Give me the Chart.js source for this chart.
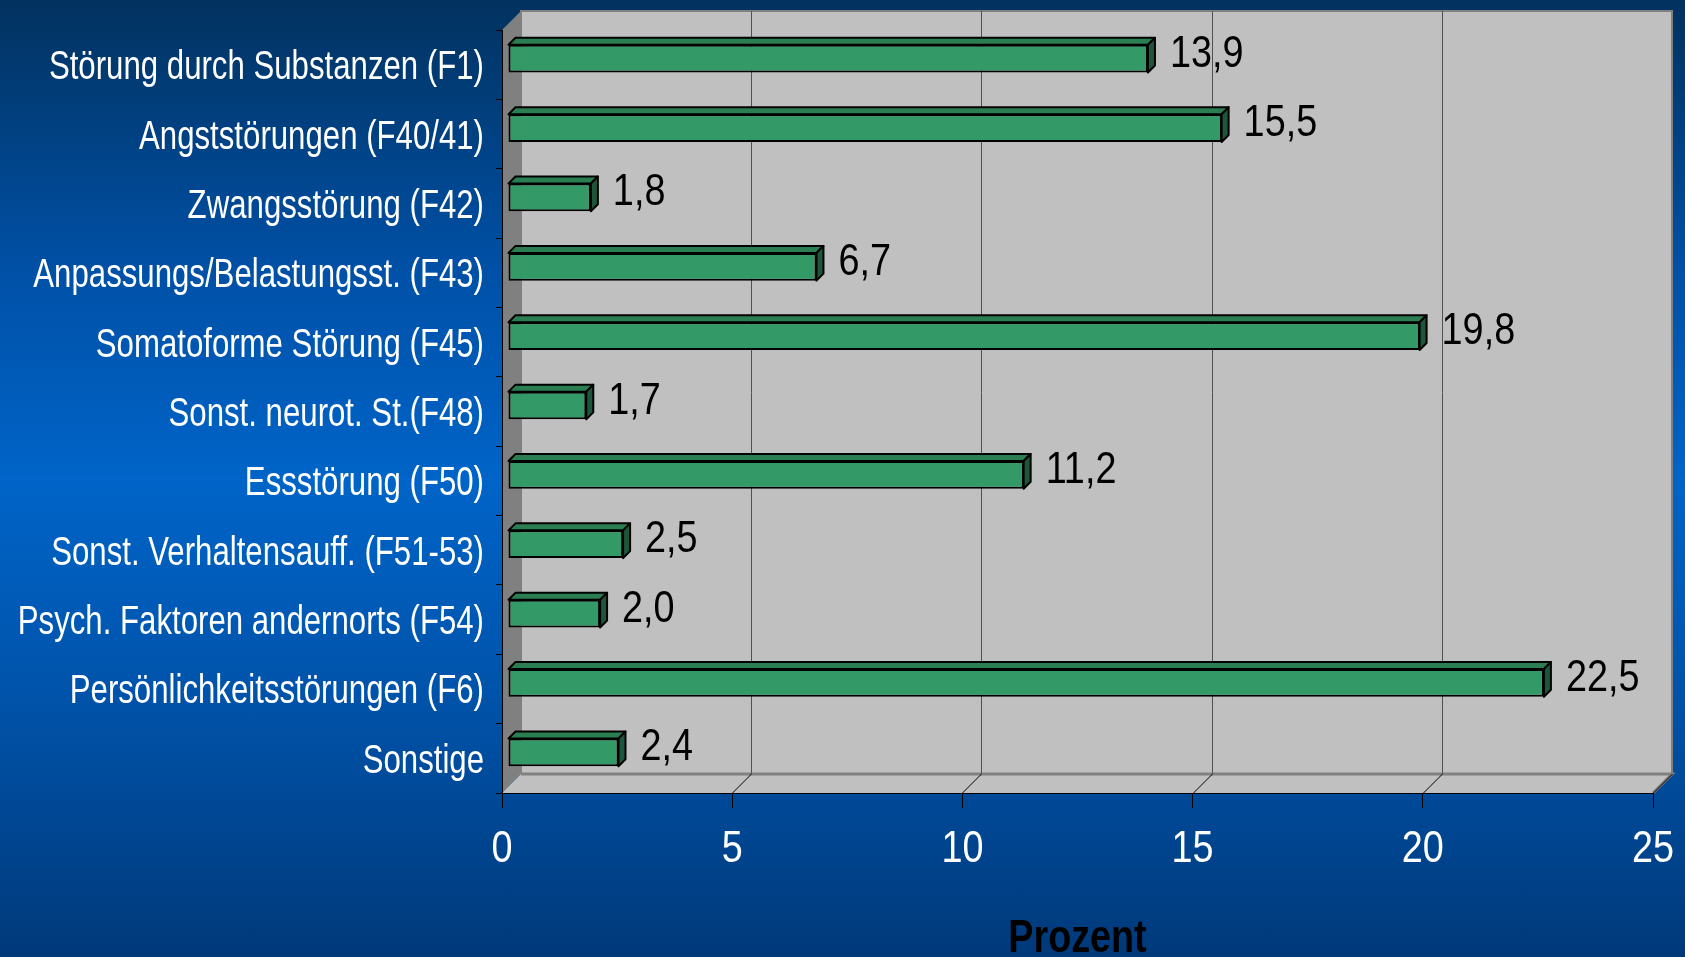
<!DOCTYPE html>
<html>
<head>
<meta charset="utf-8">
<script src="https://cdn.jsdelivr.net/npm/chart.js@4/dist/chart.umd.min.js"></script>
<style>
  html, body { margin: 0; padding: 0; }
  body {
    width: 1685px; height: 957px; overflow: hidden;
    background: linear-gradient(to bottom, #02325f 0%, #0050a6 28%, #0064c8 50%, #0052a8 74%, #00397a 100%);
  }
  canvas { display: block; }
</style>
</head>
<body>
<canvas id="chart" width="1685" height="957"></canvas>
<script>
"use strict"

const categories = [
  "Störung durch Substanzen (F1)",
  "Angststörungen (F40/41)",
  "Zwangsstörung (F42)",
  "Anpassungs/Belastungsst. (F43)",
  "Somatoforme Störung (F45)",
  "Sonst. neurot. St.(F48)",
  "Essstörung (F50)",
  "Sonst. Verhaltensauff. (F51-53)",
  "Psych. Faktoren andernorts (F54)",
  "Persönlichkeitsstörungen (F6)",
  "Sonstige",
];
const values = [13.9, 15.5, 1.8, 6.7, 19.8, 1.7, 11.2, 2.5, 2.0, 22.5, 2.4];
const xTicks = [0, 5, 10, 15, 20, 25];

const FONT = "'Liberation Sans', Arial, sans-serif";
const DEPTH = 19;      // wall depth
const BAR_SHIFT = 6;   // bar front face sits a bit inside the box
const BAR_DEPTH = 7;

// Arial Narrow look: squeeze regular Arial-metric text horizontally
function narrowText(ctx, text, x, y, font, color, align, squeeze) {
  ctx.save();
  ctx.font = font;
  ctx.fillStyle = color;
  ctx.textAlign = align;
  ctx.textBaseline = "alphabetic";
  ctx.translate(x, y);
  ctx.scale(squeeze, 1);
  ctx.fillText(text, 0, 0);
  ctx.restore();
}

const wallsPlugin = {
  id: "walls",
  beforeDraw(chart) {
    const { ctx, chartArea: a, scales } = chart;
    ctx.save();
    // back wall
    ctx.fillStyle = "#c0c0c0";
    ctx.fillRect(a.left + DEPTH, a.top - DEPTH, a.right - a.left, a.bottom - a.top);
    ctx.strokeStyle = "#808080";
    ctx.lineWidth = 2;
    ctx.strokeRect(a.left + DEPTH, a.top - DEPTH, a.right - a.left, a.bottom - a.top);
    // side wall
    ctx.fillStyle = "#808080";
    ctx.beginPath();
    ctx.moveTo(a.left, a.top);
    ctx.lineTo(a.left + DEPTH, a.top - DEPTH);
    ctx.lineTo(a.left + DEPTH, a.bottom - DEPTH);
    ctx.lineTo(a.left, a.bottom);
    ctx.closePath();
    ctx.fill();
    // floor
    ctx.fillStyle = "#c0c0c0";
    ctx.beginPath();
    ctx.moveTo(a.left, a.bottom);
    ctx.lineTo(a.left + DEPTH, a.bottom - DEPTH);
    ctx.lineTo(a.right + DEPTH, a.bottom - DEPTH);
    ctx.lineTo(a.right, a.bottom);
    ctx.closePath();
    ctx.fill();
    ctx.strokeStyle = "#808080";
    ctx.lineWidth = 3;
    ctx.beginPath();
    ctx.moveTo(a.left + DEPTH, a.bottom - DEPTH);
    ctx.lineTo(a.right + DEPTH, a.bottom - DEPTH);
    ctx.lineTo(a.right, a.bottom);
    ctx.stroke();
    // grid lines on back wall and floor
    const x = scales.x;
    xTicks.forEach((t) => {
      const px = Math.round(x.getPixelForValue(t)) + 0.5;
      ctx.lineWidth = 1;
      if (t > 0 && t < 25) {
        ctx.strokeStyle = "#505050";
        ctx.beginPath();
        ctx.moveTo(px + DEPTH, a.top - DEPTH);
        ctx.lineTo(px + DEPTH, a.bottom - DEPTH);
        ctx.stroke();
      }
      if (t > 0) {
        ctx.strokeStyle = "#000";
        ctx.beginPath();
        ctx.moveTo(px, a.bottom);
        ctx.lineTo(px + DEPTH, a.bottom - DEPTH);
        ctx.stroke();
      }
    });
    ctx.restore();
  },
  beforeDatasetsDraw(chart) {
    chart.ctx.save();
    chart.ctx.translate(BAR_SHIFT, -BAR_SHIFT);
  },
  afterDatasetsDraw(chart) {
    const ctx = chart.ctx;
    const meta = chart.getDatasetMeta(0);
    const d = BAR_DEPTH;
    meta.data.forEach((bar) => {
      const p = bar.getProps(["x", "y", "base", "height"], true);
      const x0 = p.base, x1 = p.x, y0 = p.y - p.height / 2, y1 = p.y + p.height / 2;
      ctx.lineWidth = 2;
      ctx.strokeStyle = "#000";
      ctx.lineJoin = "round";
      // top face
      ctx.fillStyle = "#2b7d52";
      ctx.beginPath();
      ctx.moveTo(x0, y0);
      ctx.lineTo(x0 + d, y0 - d);
      ctx.lineTo(x1 + d, y0 - d);
      ctx.lineTo(x1, y0);
      ctx.closePath();
      ctx.fill();
      ctx.stroke();
      // right face
      ctx.fillStyle = "#1d563a";
      ctx.beginPath();
      ctx.moveTo(x1, y0);
      ctx.lineTo(x1 + d, y0 - d);
      ctx.lineTo(x1 + d, y1 - d);
      ctx.lineTo(x1, y1);
      ctx.closePath();
      ctx.fill();
      ctx.stroke();
    });
    ctx.restore();
    // value labels, comma decimals
    meta.data.forEach((bar, i) => {
      const p = bar.getProps(["x", "y"], true);
      const txt = values[i].toFixed(1).replace(".", ",");
      narrowText(ctx, txt, p.x + BAR_SHIFT + d + 15, p.y - BAR_SHIFT - 8 + 16, "45px " + FONT, "#000", "left", 0.84);
    });
  },
  afterDraw(chart) {
    const { ctx, chartArea: a, scales } = chart;
    // category labels
    categories.forEach((c, i) => {
      const py = scales.y.getPixelForTick(i);
      narrowText(ctx, c, a.left - 18, py + 14.5, "40.5px " + FONT, "#fff", "right", 0.77);
    });
    // x tick labels
    xTicks.forEach((t) => {
      const px = scales.x.getPixelForValue(t);
      narrowText(ctx, String(t), px, a.bottom + 69, "45px " + FONT, "#fff", "center", 0.84);
    });
    // axis title
    narrowText(ctx, "Prozent", (a.left + a.right) / 2, 952, "bold 46px " + FONT, "#000", "center", 0.82);
  },
};

new Chart(document.getElementById("chart"), {
  type: "bar",
  data: {
    labels: categories,
    datasets: [
      {
        label: "Prozent",
        data: values,
        backgroundColor: "#339966",
        borderColor: "#000",
        borderWidth: 2,
        borderSkipped: false,
        categoryPercentage: 1,
        barPercentage: 0.4,
      },
    ],
  },
  plugins: [wallsPlugin],
  options: {
    indexAxis: "y",
    responsive: false,
    animation: false,
    devicePixelRatio: 1,
    layout: { padding: { top: 30, right: 32, left: 0, bottom: 0 } },
    plugins: {
      legend: { display: false },
      tooltip: { enabled: false },
    },
    scales: {
      x: {
        type: "linear",
        min: 0,
        max: 25,
        afterBuildTicks: (scale) => {
          scale.ticks = xTicks.map((v) => ({ value: v }));
        },
        afterFit: (scale) => { scale.height = 164; },
        grid: { drawOnChartArea: false, color: "#000", tickLength: 15 },
        border: { display: true, color: "#000", width: 1 },
        ticks: { display: false },
      },
      y: {
        afterFit: (scale) => { scale.width = 502; },
        grid: { drawOnChartArea: false, color: "#000", tickLength: 6, offset: true },
        border: { display: true, color: "#000", width: 1 },
        ticks: { display: false },
      },
    },
  },
});
</script>
</body>
</html>
